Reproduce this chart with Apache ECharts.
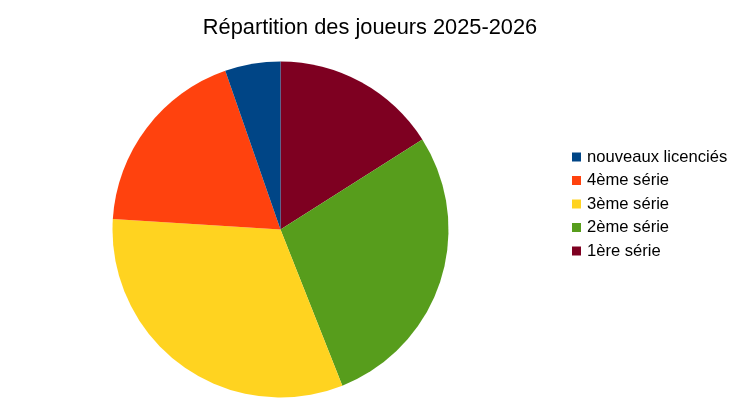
<!DOCTYPE html>
<html>
<head>
<meta charset="utf-8">
<script src="https://cdn.jsdelivr.net/npm/echarts@6/dist/echarts.min.js"></script>
<style>
html,body{margin:0;padding:0;background:#fff;}
#chart{width:740px;height:406px;}
</style>
</head>
<body>
<div id="chart"></div>
<script>
const titleText = 'Répartition des joueurs 2025-2026';
const categories = ['1ère série', '2ème série', '3ème série', '4ème série', 'nouveaux licenciés'];
const values = [12, 21, 24, 14, 4];
const colors = ['#7e0021', '#579d1c', '#ffd320', '#ff420e', '#004586'];
const legendOrder = ['nouveaux licenciés', '4ème série', '3ème série', '2ème série', '1ère série'];

const chart = echarts.init(document.getElementById('chart'), null, {renderer: 'canvas'});
chart.setOption({
  animation: false,
  backgroundColor: '#ffffff',
  title: {
    text: titleText,
    left: 'center',
    top: 15,
    padding: 0,
    textStyle: {fontFamily: 'Liberation Sans', fontSize: 21.8, fontWeight: 'normal', color: '#000000', lineHeight: 26}
  },
  legend: {
    orient: 'vertical',
    left: 572,
    top: 148.5,
    padding: 0,
    data: legendOrder,
    icon: 'rect',
    itemWidth: 9,
    itemHeight: 9,
    itemGap: 6.5,
    textStyle: {fontFamily: 'Liberation Sans', fontSize: 16.6, color: '#000000', lineHeight: 16.5, padding: [0, 0, 0, 1]}
  },
  series: [{
    type: 'pie',
    center: [280.5, 229.5],
    radius: [0, 168],
    startAngle: 90,
    clockwise: true,
    label: {show: false},
    labelLine: {show: false},
    emphasis: {disabled: true},
    itemStyle: {borderWidth: 0},
    data: categories.map((c, i) => ({name: c, value: values[i], itemStyle: {color: colors[i]}}))
  }]
});
</script>
</body>
</html>
